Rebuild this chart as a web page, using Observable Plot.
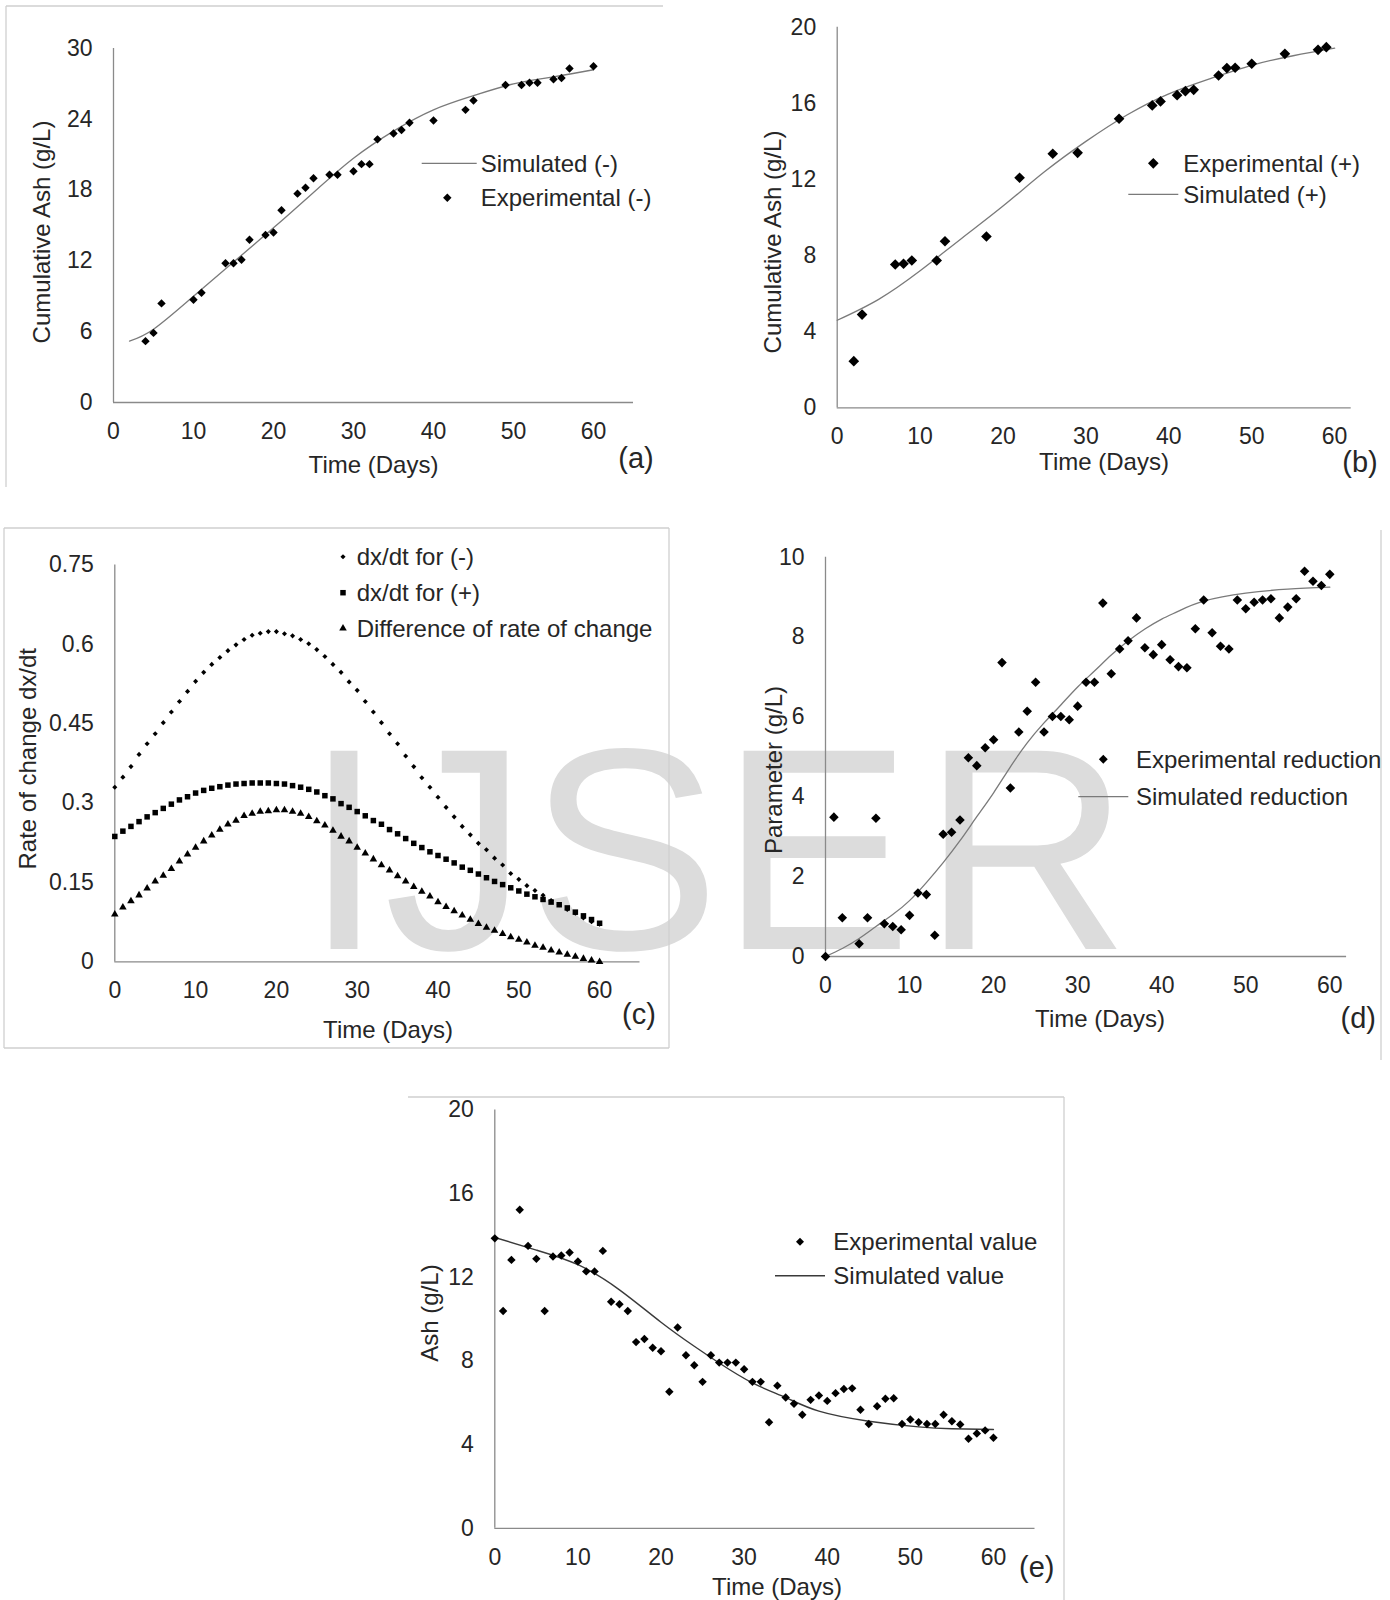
<!DOCTYPE html>
<html>
<head>
<meta charset="utf-8">
<script src="https://cdn.jsdelivr.net/npm/d3@7"></script>
<script src="https://cdn.jsdelivr.net/npm/@observablehq/plot@0.6"></script>
<style>
  html, body { margin: 0; padding: 0; background: #fff; }
  #page { position: relative; width: 1390px; height: 1600px; overflow: hidden; background: #fff;
          font-family: "Liberation Sans", Arial, sans-serif; color: #262626; }
  .layer { position: absolute; left: 0; top: 0; }
</style>
</head>
<body>
<div id="page"></div>
<script>
// ---------------- DATA ----------------
// (a) Cumulative ash, control (-)
const aExpDay = [4,5,6,10,11,14,15,16,17,19,20,21,23,24,25,27,28,30,31,32,33,35,36,37,40,44,45,49,51,52,53,55,56,57,60];
const aExpVal = [5.2,5.9,8.4,8.7,9.3,11.8,11.8,12.1,13.8,14.2,14.4,16.3,17.7,18.2,19.0,19.3,19.3,19.6,20.2,20.2,22.3,22.8,23.1,23.7,23.9,24.8,25.6,26.9,26.9,27.1,27.1,27.4,27.5,28.3,28.5];
const aSimDay = [2,5,10,15,20,25,30,35,40,45,50,55,60];
const aSimVal = [5.2,6.2,9.0,11.9,14.8,17.8,20.7,23.0,24.8,26.0,27.0,27.6,28.2];
const aXTicks = [0,10,20,30,40,50,60];
const aYTicks = [0,6,12,18,24,30];

// (b) Cumulative ash, treated (+)
const bExpDay = [2,3,7,8,9,12,13,18,22,26,29,34,38,39,41,42,43,46,47,48,50,54,58,59];
const bExpVal = [2.45,4.9,7.53,7.57,7.74,7.74,8.75,9.0,12.09,13.35,13.4,15.19,15.89,16.1,16.43,16.64,16.71,17.46,17.85,17.87,18.08,18.6,18.81,18.95];
const bSimDay = [0,5,10,15,20,25,30,35,40,45,50,55,60];
const bSimVal = [4.6,5.7,7.2,8.9,10.6,12.4,14.0,15.4,16.5,17.3,18.0,18.5,18.9];
const bXTicks = [0,10,20,30,40,50,60];
const bYTicks = [0,4,8,12,16,20];

// (c) Rate of change
const cDay = [0,1,2,3,4,5,6,7,8,9,10,11,12,13,14,15,16,17,18,19,20,21,22,23,24,25,26,27,28,29,30,31,32,33,34,35,36,37,38,39,40,41,42,43,44,45,46,47,48,49,50,51,52,53,54,55,56,57,58,59,60];
const cMinus = [0.330,0.349,0.369,0.392,0.412,0.431,0.452,0.472,0.492,0.511,0.530,0.547,0.562,0.575,0.588,0.599,0.609,0.617,0.621,0.624,0.624,0.620,0.616,0.609,0.601,0.590,0.577,0.562,0.547,0.529,0.513,0.492,0.472,0.452,0.431,0.412,0.389,0.369,0.348,0.330,0.311,0.292,0.274,0.256,0.240,0.224,0.212,0.196,0.183,0.167,0.156,0.144,0.135,0.126,0.116,0.108,0.099,0.092,0.083,0.076,0.071];
const cPlus = [0.237,0.247,0.256,0.265,0.274,0.282,0.290,0.298,0.306,0.312,0.319,0.324,0.328,0.331,0.334,0.336,0.337,0.338,0.338,0.338,0.337,0.336,0.333,0.330,0.326,0.321,0.314,0.308,0.299,0.292,0.284,0.276,0.267,0.260,0.250,0.242,0.233,0.224,0.216,0.208,0.201,0.194,0.187,0.179,0.173,0.166,0.159,0.152,0.146,0.140,0.134,0.128,0.123,0.118,0.113,0.108,0.102,0.094,0.087,0.080,0.073];
const cDiff = [0.090,0.103,0.115,0.126,0.139,0.152,0.163,0.176,0.190,0.203,0.216,0.228,0.239,0.250,0.260,0.267,0.276,0.280,0.284,0.285,0.287,0.287,0.284,0.280,0.274,0.266,0.258,0.248,0.237,0.228,0.216,0.205,0.194,0.183,0.173,0.162,0.152,0.142,0.133,0.124,0.113,0.104,0.096,0.088,0.080,0.072,0.065,0.059,0.053,0.047,0.042,0.037,0.031,0.027,0.022,0.018,0.014,0.010,0.006,0.003,0.000];
const cXTicks = [0,10,20,30,40,50,60];
const cYTicks = [0,0.15,0.3,0.45,0.6,0.75];

// (d) Parameter reduction
const dExpDay = [0,1,2,4,5,6,7,8,9,10,11,12,13,14,15,16,17,18,19,20,21,22,23,24,25,26,27,28,29,30,31,32,33,34,35,36,37,38,39,40,41,42,43,44,45,46,47,48,49,50,51,52,53,54,55,56,57,58,59,60];
const dExpVal = [0,3.49,0.97,0.32,0.97,3.46,0.82,0.75,0.67,1.03,1.59,1.55,0.53,3.06,3.11,3.42,4.98,4.78,5.23,5.43,7.36,4.22,5.62,6.14,6.87,5.62,6.01,6.01,5.93,6.27,6.87,6.87,8.85,7.08,7.7,7.91,8.48,7.73,7.56,7.81,7.43,7.26,7.23,8.21,8.93,8.11,7.77,7.7,8.93,8.71,8.87,8.93,8.96,8.48,8.75,8.96,9.65,9.4,9.29,9.57];
const dSimDay = [0,2,4,6,8,10,12,14,16,18,20,22,24,26,28,30,32,34,36,38,40,42,45,50,55,60];
const dSimVal = [0,0.2,0.45,0.75,1.05,1.4,1.85,2.35,2.9,3.5,4.1,4.75,5.35,5.85,6.3,6.75,7.15,7.55,7.9,8.2,8.45,8.65,8.9,9.1,9.2,9.25];
const dXTicks = [0,10,20,30,40,50,60];
const dYTicks = [0,2,4,6,8,10];

// (e) Ash
const eExpDay = [0,1,2,3,4,5,6,7,8,9,10,11,12,13,14,15,16,17,18,19,20,21,22,23,24,25,26,27,28,29,30,31,32,33,34,35,36,37,38,39,40,41,42,43,44,45,46,47,48,49,50,51,52,53,54,55,56,57,58,59,60];
const eExpVal = [13.86,10.39,12.83,15.23,13.5,12.88,10.39,12.99,13.04,13.18,12.75,12.28,12.28,13.26,10.83,10.71,10.39,8.9,9.05,8.63,8.46,6.53,9.6,8.27,7.79,7.0,8.27,7.92,7.92,7.92,7.6,7.0,7.0,5.07,6.82,6.25,5.95,5.43,6.14,6.35,6.09,6.46,6.66,6.69,5.67,4.99,5.83,6.19,6.22,4.99,5.2,5.07,4.99,4.99,5.43,5.12,4.96,4.28,4.53,4.68,4.33];
const eSimDay = [0,5,10,15,20,24,27,31,35,39,45,51,55,60];
const eSimVal = [13.9,13.3,12.6,11.4,9.85,8.7,7.9,6.95,6.25,5.6,5.12,4.85,4.76,4.72];
const eXTicks = [0,10,20,30,40,50,60];
const eYTicks = [0,4,8,12,16,20];

// ---------------- HELPERS ----------------
const zip = (xs, ys) => xs.map((x, i) => ({day: x, v: ys[i]}));
const AXIS = "#8a8a8a";
const SIM = "#7a7a7a";
const FRAME = "#cfcfcf";
const TXT = "#262626";
const FONT = "'Liberation Sans', Arial, sans-serif";
const page = document.getElementById("page");
const NS = "http://www.w3.org/2000/svg";

// background watermark layer
const bg = document.createElementNS(NS, "svg");
bg.setAttribute("class", "layer");
bg.setAttribute("width", 1390); bg.setAttribute("height", 1600);
bg.style.zIndex = 0;
page.appendChild(bg);
{
  const t = document.createElementNS(NS, "text");
  t.setAttribute("x", "304 384 528 720 922");
  t.setAttribute("y", 949);
  t.setAttribute("font-family", FONT); t.setAttribute("font-size", 288);
  t.setAttribute("fill", "#dcdcdc");
  t.textContent = "IJSER";
  bg.appendChild(t);
}

function panel(cfg) {
  const {left, top, width, height, xDomain, yDomain, x0, x1, yT, y0, xTicks, yTicks, marks} = cfg;
  const svg = Plot.plot({
    width, height,
    marginLeft: x0 - left,
    marginRight: left + width - x1,
    marginTop: yT - top,
    marginBottom: top + height - y0,
    x: {domain: xDomain},
    y: {domain: yDomain},
    style: {background: "transparent", fontFamily: FONT, fontSize: "23px", color: TXT, overflow: "visible"},
    marks: [
      Plot.ruleX([xDomain[0]], {stroke: AXIS, strokeWidth: 1.3}),
      Plot.ruleY([yDomain[0]], {stroke: AXIS, strokeWidth: 1.3}),
      Plot.axisX(xTicks, {tickSize: 0, tickPadding: 20, label: null, fontSize: 23}),
      Plot.axisY(yTicks, {tickSize: 0, tickPadding: 21, label: null, fontSize: 23, tickFormat: d => String(d)}),
      ...marks
    ]
  });
  svg.style.position = "absolute";
  svg.style.left = left + "px";
  svg.style.top = top + "px";
  svg.style.zIndex = 1;
  svg.style.maxWidth = "none";
  page.appendChild(svg);
}

// (a)
panel({
  left: 0, top: 0, width: 670, height: 490,
  xDomain: [0, 65], yDomain: [0, 30], x0: 113, x1: 633, yT: 48, y0: 402,
  xTicks: aXTicks, yTicks: aYTicks,
  marks: [
    Plot.line(zip(aSimDay, aSimVal), {x: "day", y: "v", stroke: SIM, strokeWidth: 1.3, curve: "natural"}),
    Plot.dot(zip(aExpDay, aExpVal), {x: "day", y: "v", symbol: "diamond2", r: 3.8, fill: "#000", stroke: "none"})
  ]
});

// (b)
panel({
  left: 740, top: 0, width: 650, height: 490,
  xDomain: [0, 62], yDomain: [0, 20], x0: 836.7, x1: 1350.7, yT: 26.7, y0: 407.3,
  xTicks: bXTicks, yTicks: bYTicks,
  marks: [
    Plot.line(zip(bSimDay, bSimVal), {x: "day", y: "v", stroke: SIM, strokeWidth: 1.3, curve: "natural"}),
    Plot.dot(zip(bExpDay, bExpVal), {x: "day", y: "v", symbol: "diamond2", r: 4.8, fill: "#000", stroke: "none"})
  ]
});

// (c)
panel({
  left: 0, top: 520, width: 680, height: 530,
  xDomain: [0, 65], yDomain: [0, 0.75], x0: 114.3, x1: 639.5, yT: 564.4, y0: 961.4,
  xTicks: cXTicks, yTicks: cYTicks,
  marks: [
    Plot.dot(zip(cDay, cDiff), {x: "day", y: "v", symbol: "triangle", r: 2.8, fill: "#000", stroke: "none"}),
    Plot.dot(zip(cDay, cPlus), {x: "day", y: "v", symbol: "square", r: 3.1, fill: "#000", stroke: "none"}),
    Plot.dot(zip(cDay, cMinus), {x: "day", y: "v", symbol: "diamond2", r: 2.3, fill: "#000", stroke: "none"})
  ]
});

// (d)
panel({
  left: 740, top: 530, width: 650, height: 520,
  xDomain: [0, 62], yDomain: [0, 10], x0: 825, x1: 1346.1, yT: 556.7, y0: 956,
  xTicks: dXTicks, yTicks: dYTicks,
  marks: [
    Plot.line(zip(dSimDay, dSimVal), {x: "day", y: "v", stroke: SIM, strokeWidth: 1.3, curve: "natural"}),
    Plot.dot(zip(dExpDay, dExpVal), {x: "day", y: "v", symbol: "diamond2", r: 4.3, fill: "#000", stroke: "none"})
  ]
});

// (e)
panel({
  left: 400, top: 1090, width: 660, height: 510,
  xDomain: [0, 65], yDomain: [0, 20], x0: 494.3, x1: 1034.5, yT: 1109.4, y0: 1527.8,
  xTicks: eXTicks, yTicks: eYTicks,
  marks: [
    Plot.line(zip(eSimDay, eSimVal), {x: "day", y: "v", stroke: "#3a3a3a", strokeWidth: 1.4, curve: "natural"}),
    Plot.dot(zip(eExpDay, eExpVal), {x: "day", y: "v", symbol: "diamond2", r: 3.8, fill: "#000", stroke: "none"})
  ]
});

// ---------------- OVERLAY: frames, titles, legends ----------------
const ov = document.createElementNS(NS, "svg");
ov.setAttribute("class", "layer");
ov.setAttribute("width", 1390); ov.setAttribute("height", 1600);
ov.style.zIndex = 2;
page.appendChild(ov);

function line(x1, y1, x2, y2, stroke, w) {
  const l = document.createElementNS(NS, "line");
  l.setAttribute("x1", x1); l.setAttribute("y1", y1);
  l.setAttribute("x2", x2); l.setAttribute("y2", y2);
  l.setAttribute("stroke", stroke); l.setAttribute("stroke-width", w);
  ov.appendChild(l);
}
function text(str, x, y, size, anchor, rotate) {
  const t = document.createElementNS(NS, "text");
  t.setAttribute("font-family", FONT);
  t.setAttribute("font-size", size);
  t.setAttribute("fill", TXT);
  t.setAttribute("text-anchor", anchor || "start");
  t.setAttribute("dy", "0.35em");
  if (rotate) {
    t.setAttribute("transform", `translate(${x},${y}) rotate(-90)`);
  } else {
    t.setAttribute("x", x); t.setAttribute("y", y);
  }
  t.textContent = str;
  ov.appendChild(t);
}
function sym(type, x, y, r) {
  const p = document.createElementNS(NS, "path");
  p.setAttribute("d", d3.symbol().type(type).size(Math.PI * r * r)());
  p.setAttribute("transform", `translate(${x},${y})`);
  p.setAttribute("fill", "#000");
  ov.appendChild(p);
}

// frames
line(6, 6, 663, 6, FRAME, 1.3); line(6, 6, 6, 487, FRAME, 1.3);
line(4, 528, 669, 528, FRAME, 1.3); line(669, 528, 669, 1048, FRAME, 1.3);
line(4, 1048, 669, 1048, FRAME, 1.3); line(4, 528, 4, 1048, FRAME, 1.3);
line(1381, 530, 1381, 1060, FRAME, 1.3);
line(408, 1097, 1064, 1097, FRAME, 1.3); line(1064, 1097, 1064, 1600, FRAME, 1.3);

// (a) texts
text("Time (Days)", 373.5, 464.4, 24, "middle");
text("Cumulative Ash (g/L)", 41.7, 232, 24, "middle", true);
text("(a)", 636, 458, 29, "middle");
line(421.7, 163.3, 476.7, 163.3, SIM, 1.3);
text("Simulated (-)", 480.7, 163.3, 24);
sym(d3.symbolDiamond2, 447.3, 197.7, 3.8);
text("Experimental (-)", 480.7, 197.7, 24);

// (b) texts
text("Time (Days)", 1104, 461.7, 24, "middle");
text("Cumulative Ash (g/L)", 773, 242, 24, "middle", true);
text("(b)", 1360, 461.7, 29, "middle");
sym(d3.symbolDiamond2, 1153.3, 163.3, 4.8);
text("Experimental (+)", 1183.3, 163.3, 24);
line(1128.3, 194.3, 1178.3, 194.3, SIM, 1.3);
text("Simulated (+)", 1183.3, 194.3, 24);

// (c) texts
text("Time (Days)", 388, 1029.8, 24, "middle");
text("Rate of change dx/dt", 27.5, 758.8, 24, "middle", true);
text("(c)", 639, 1013.5, 29, "middle");
sym(d3.symbolDiamond2, 343, 556.7, 2.3);
text("dx/dt for (-)", 356.7, 556.7, 24);
sym(d3.symbolSquare, 343, 592.7, 3.1);
text("dx/dt for (+)", 356.7, 592.7, 24);
sym(d3.symbolTriangle, 343, 628.3, 2.8);
text("Difference of rate of change", 356.7, 628.3, 24);

// (d) texts
text("Time (Days)", 1100, 1018.3, 24, "middle");
text("Parameter (g/L)", 773.3, 770, 24, "middle", true);
text("(d)", 1358.3, 1018.3, 29, "middle");
sym(d3.symbolDiamond2, 1103.3, 759.3, 4.0);
text("Experimental reduction", 1136, 759.3, 24);
line(1078.3, 796.7, 1128.3, 796.7, SIM, 1.3);
text("Simulated reduction", 1136, 796.7, 24);

// (e) texts
text("Time (Days)", 777, 1586.7, 24, "middle");
text("Ash (g/L)", 430, 1313, 24, "middle", true);
text("(e)", 1036.7, 1566.7, 29, "middle");
sym(d3.symbolDiamond2, 800, 1241.7, 3.6);
text("Experimental value", 833.3, 1241.7, 24);
line(775, 1275.7, 825, 1275.7, "#3a3a3a", 1.4);
text("Simulated value", 833.3, 1275.7, 24);
</script>
</body>
</html>
